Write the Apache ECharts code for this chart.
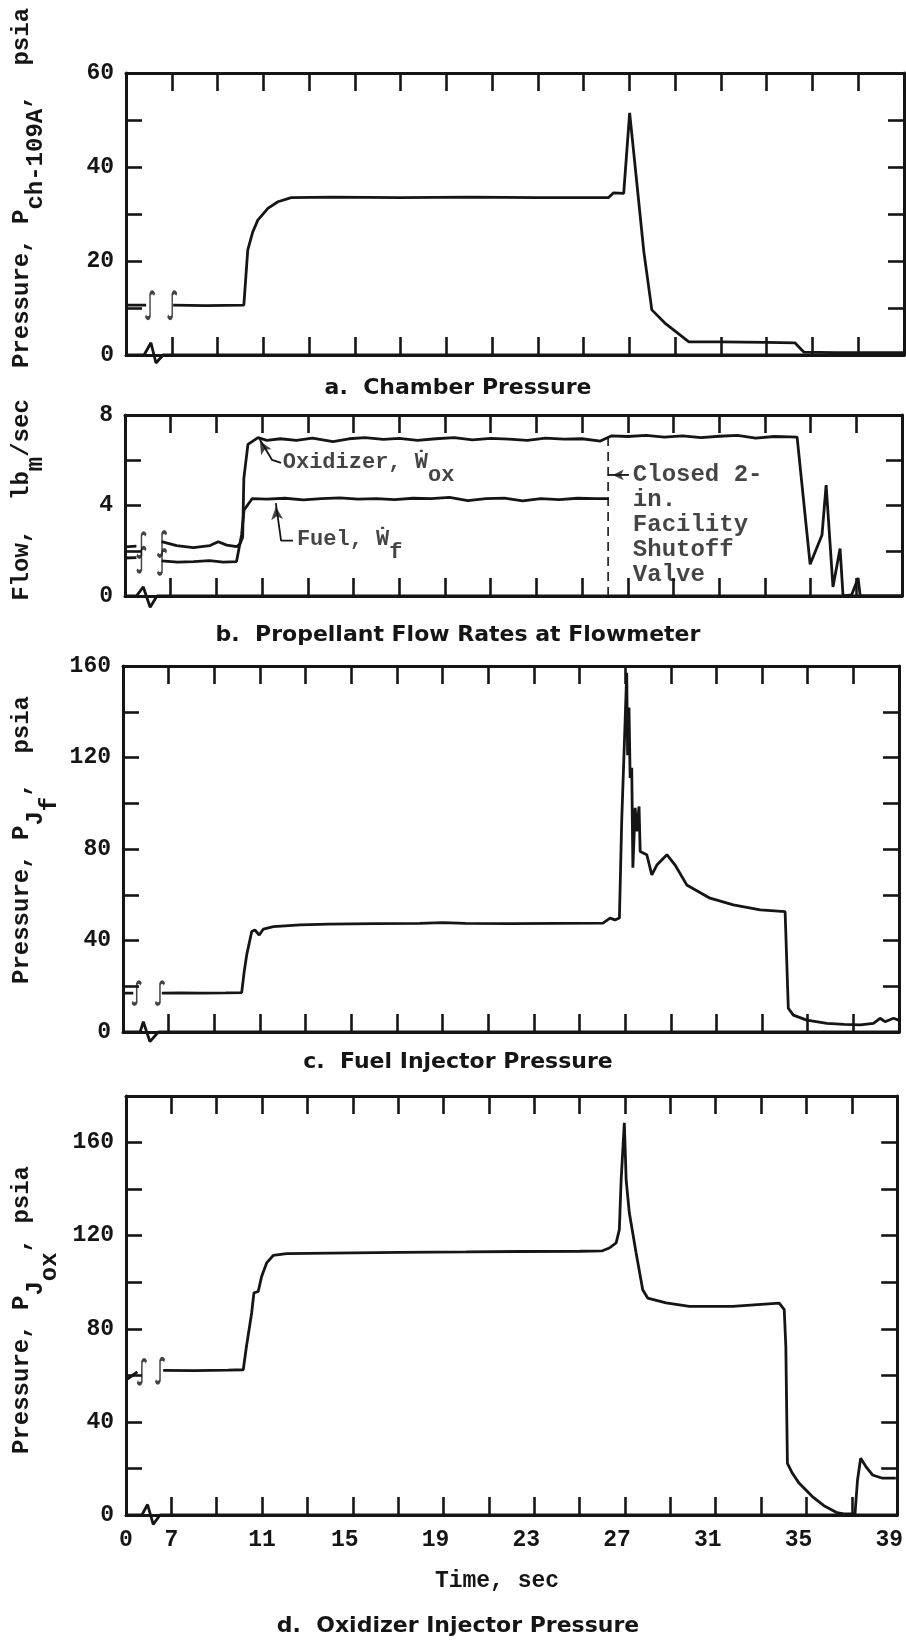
<!DOCTYPE html>
<html><head><meta charset="utf-8">
<script src="https://cdn.jsdelivr.net/npm/echarts@6/dist/echarts.min.js"></script>
<style>html,body{margin:0;padding:0;background:#fff}#c{width:906px;height:1644px}</style>
</head><body><div id="c"></div>
<script>
// Broken time axis: axis value 5 is the origin (labelled "0"), 7..39 are seconds.
const timeTickValues = [5, 7, 11, 15, 19, 23, 27, 31, 35, 39];
const timeTickLabels = ['0', '7', '11', '15', '19', '23', '27', '31', '35', '39'];

const chamberTicks = [0, 20, 40, 60];
const flowTicks = [0, 4, 8];
const fuelInjTicks = [0, 40, 80, 120, 160];
const oxInjTicks = [0, 40, 80, 120, 160];

// a. Chamber pressure
const chamberTime  = [5, 5.88, 6.5, 7.06, 8.5, 10.15, 10.32, 10.54, 10.76, 11.2, 11.64, 12.22, 14, 17, 20, 23, 26.09, 26.31, 26.75, 27.01, 27.19, 27.63, 27.98, 28.55, 29.6, 31, 33, 34.23, 34.63, 36, 39];
const chamberPress = [10.6, 10.6, null, 10.6, 10.5, 10.6, 22.3, 26.2, 28.7, 31.2, 32.6, 33.5, 33.6, 33.5, 33.6, 33.5, 33.5, 34.5, 34.4, 51.5, 43, 22, 9.6, 6.8, 2.8, 2.8, 2.7, 2.6, 0.6, 0.5, 0.5];

// b. Propellant flow rates
const oxTime = [5, 5.5, 6.0, 6.6, 7.26, 7.99, 8.72, 9.08, 9.45, 9.89, 10.03, 10.15, 10.2, 10.38, 10.82, 11.21, 11.8, 12.5, 13.2, 14.1, 14.8, 15.5, 16.3, 17.0, 17.8, 18.6, 19.4, 20.2, 21.0, 21.8, 22.6, 23.4, 24.2, 25.0, 25.8, 26.3, 27.0, 27.8, 28.6, 29.4, 30.2, 31.0, 31.8, 32.6, 33.4, 34.1, 34.41, 34.98, 35.5, 35.68, 35.98, 36.29, 36.42, 36.8, 37.08, 37.17, 39];
const oxFlow = [2.17, 2.2, null, 2.4, 2.23, 2.14, 2.23, 2.4, 2.25, 2.18, 2.3, 2.6, 5.2, 6.7, 7.0, 6.88, 6.95, 6.88, 6.98, 6.82, 6.95, 7.0, 6.92, 6.97, 6.88, 6.95, 7.0, 6.9, 6.97, 6.93, 6.88, 6.98, 6.93, 6.95, 6.85, 7.08, 7.05, 7.1, 7.02, 7.08, 7.0, 7.06, 7.1, 6.98, 7.05, 7.03, 7.02, 1.4, 2.7, 4.9, 0.4, 2.1, 0.0, 0.05, 0.8, 0.0, 0.0];
const fuelTime = [5, 5.5, 6.0, 6.6, 7.3, 8.0, 8.7, 9.3, 9.88, 10.1, 10.21, 10.56, 11.2, 12.0, 12.8, 13.6, 14.4, 15.2, 16.0, 16.8, 17.6, 18.4, 19.2, 20.0, 20.8, 21.6, 22.4, 23.2, 24.0, 24.8, 25.6, 26.14];
const fuelFlow = [1.68, 1.7, null, 1.55, 1.5, 1.52, 1.56, 1.5, 1.52, 2.7, 3.8, 4.3, 4.28, 4.32, 4.25, 4.3, 4.34, 4.28, 4.3, 4.26, 4.32, 4.3, 4.36, 4.22, 4.3, 4.33, 4.2, 4.3, 4.26, 4.32, 4.3, 4.3];
const valveCloseTime = 26.14;

// c. Fuel injector pressure
const fuelInjTime  = [5, 5.45, 5.9, 6.7, 7.5, 8.5, 9.5, 10.2, 10.31, 10.42, 10.64, 10.78, 10.97, 11.15, 11.59, 12.76, 14, 16, 18, 19, 20, 22, 24, 26.03, 26.34, 26.56, 26.75, 26.85, 27.0, 27.07, 27.11, 27.17, 27.22, 27.29, 27.34, 27.44, 27.51, 27.61, 27.66, 27.95, 28.17, 28.39, 28.83, 29.19, 29.7, 30.72, 31.74, 32.92, 34.01, 34.15, 34.37, 34.96, 35.84, 36.6, 37.3, 37.88, 38.17, 38.39, 38.76, 38.98];
const fuelInjPress = [17, 17, null, 17, 17.1, 17, 17.1, 17.2, 26.4, 33.7, 43.9, 44.6, 42.4, 45, 46.1, 46.8, 47.2, 47.4, 47.5, 47.8, 47.5, 47.4, 47.5, 47.6, 49.8, 49, 49.8, 92, 135.8, 157, 121, 141.8, 111, 115.5, 71.8, 98, 87.7, 98.6, 78.9, 77.5, 68.7, 73, 77.5, 73, 64.3, 58.5, 55.6, 53.4, 52.6, 10.4, 7.4, 5.2, 3.8, 3.3, 3.1, 3.8, 6, 4.5, 6, 5.2];

// d. Oxidizer injector pressure
const oxInjTime  = [5, 5.5, 6.0, 6.64, 8, 9.5, 10.17, 10.31, 10.54, 10.64, 10.83, 10.98, 11.2, 11.49, 12.08, 14, 17.06, 20, 22.35, 25, 26.0, 26.31, 26.61, 26.75, 26.83, 26.97, 27.05, 27.19, 27.49, 27.78, 28.0, 28.81, 29.84, 31.74, 33.8, 34.02, 34.09, 34.16, 34.38, 34.68, 35.26, 35.77, 36.35, 36.65, 37.14, 37.25, 37.39, 37.62, 37.91, 38.35, 38.94];
const oxInjPress = [58, 61.5, null, 62.1, 62, 62.2, 62.4, 72.4, 86.8, 95.4, 96, 102.5, 108.3, 111.5, 112.3, 112.5, 112.8, 113, 113.2, 113.3, 113.5, 114.7, 116.9, 122.6, 144, 168.5, 144, 129.8, 112.6, 96.8, 93.2, 91.1, 89.6, 89.6, 91, 88.2, 72.4, 22.2, 17.9, 13.6, 7.9, 4, 1, 0.5, 0.5, 15, 24.4, 20.8, 17.2, 15.8, 15.8];

// zero traces (with the break squiggle)
const zeroTimeA = [5, 5.79, 6.09, 6.31, 6.62, 39], zeroValA = [0, 0, 2.6, -1.7, 0, 0];
const zeroTimeB = [5, 5.5, 5.8, 6.1, 6.4, 39],    zeroValB = [0, 0, 0.4, -0.5, 0, 0];
const zeroTimeC = [5, 5.75, 5.89, 6.18, 6.55, 39], zeroValC = [0, 0, 4.5, -4.2, 0, 0];
const zeroTimeD = [5, 5.7, 5.95, 6.2, 6.5, 39],   zeroValD = [0, 0, 4.5, -4, 0, 0];

// axis-break marks on the curves
const breakTimeA = [6.05, 7.02], breakLevelA = [10.6, 10.6];
const breakTimeOx = [5.72, 6.62], breakLevelOx = [2.25, 2.3];
const breakTimeFuel = [5.72, 6.62], breakLevelFuel = [1.6, 1.5];
const breakTimeC = [5.6, 6.62], breakLevelC = [17, 17];
const breakTimeD = [5.7, 6.5], breakLevelD = [61.5, 62];

const INK = '#151515';
const MONO = '"Liberation Mono", "DejaVu Sans Mono", monospace';
const SANS = '"DejaVu Sans", sans-serif';

const pairs = (t, v) => t.map((x, i) => [x, v[i] === null ? '-' : v[i]]);

const grids = [
  {left: 126, top: 73, width: 778, height: 282},
  {left: 125, top: 415, width: 777, height: 181},
  {left: 123, top: 666, width: 776, height: 366},
  {left: 126, top: 1096, width: 772, height: 419}
];
const yCfg = [
  {max: 60, interval: 10, labels: chamberTicks},
  {max: 8, interval: 2, labels: flowTicks},
  {max: 160, interval: 20, labels: fuelInjTicks},
  {max: 180, interval: 20, labels: oxInjTicks}
];

const axisLine = {show: true, onZero: false, lineStyle: {color: INK, width: 3}};
const xAxes = [], yAxes = [];
grids.forEach((g, i) => {
  ['bottom', 'top'].forEach(pos => {
    const showLab = (i === 3 && pos === 'bottom');
    xAxes.push({
      type: 'value', gridIndex: i, min: 5, max: 39, interval: 2, position: pos,
      axisLine: axisLine,
      axisTick: {show: true, inside: true, length: 18, lineStyle: {color: INK, width: 2.6}},
      splitLine: {show: false},
      axisLabel: {
        show: showLab, margin: 14, color: INK, fontFamily: MONO, fontWeight: 'bold', fontSize: 23,
        formatter: v => {
          const k = timeTickValues.indexOf(v);
          if (k < 0) return '';
          return (v >= 15 ? '{s|' : '{n|') + timeTickLabels[k] + '}';
        },
        rich: {
          n: {fontFamily: MONO, fontWeight: 'bold', fontSize: 23, color: INK},
          s: {fontFamily: MONO, fontWeight: 'bold', fontSize: 23, color: INK, padding: [0, 16, 0, 0]}
        }
      }
    });
  });
  ['left', 'right'].forEach(pos => {
    yAxes.push({
      type: 'value', gridIndex: i, min: 0, max: yCfg[i].max, interval: yCfg[i].interval, position: pos,
      axisLine: axisLine,
      axisTick: {show: true, inside: true, length: 16, lineStyle: {color: INK, width: 2.6}},
      splitLine: {show: false},
      axisLabel: {
        show: pos === 'left', margin: 12, color: INK, fontFamily: MONO, fontWeight: 'bold', fontSize: 23,
        formatter: v => yCfg[i].labels.includes(v) ? String(v) : ''
      }
    });
  });
});

const curve = (i, t, v, extra) => Object.assign({
  type: 'line', xAxisIndex: 2 * i, yAxisIndex: 2 * i, data: pairs(t, v),
  showSymbol: false, symbol: 'none', connectNulls: false, silent: true, z: 3,
  lineStyle: {color: INK, width: 2.8}
}, extra || {});

const BREAK_PATH = 'path://M10,3 C9,0.5 6,0 5,3 L5,21 C4,24 1,23.5 0,21';
const breaks = (i, t, v, size) => ({
  type: 'scatter', xAxisIndex: 2 * i, yAxisIndex: 2 * i, data: pairs(t, v), silent: true, z: 4,
  symbol: BREAK_PATH, symbolSize: size,
  itemStyle: {color: 'rgba(0,0,0,0)', borderColor: INK, borderWidth: 2.4}
});

const monoRich = (fs) => ({
  m: {fontFamily: MONO, fontWeight: 'bold', fontSize: fs, color: INK, verticalAlign: 'top'},
  s: {fontFamily: MONO, fontWeight: 'bold', fontSize: fs, color: INK, verticalAlign: 'top', padding: [13, 0, 0, 0]}
});

const series = [
  curve(0, chamberTime, chamberPress),
  curve(0, zeroTimeA, zeroValA, {clip: false}),
  breaks(0, breakTimeA, breakLevelA, [9, 26]),

  curve(1, oxTime, oxFlow),
  curve(1, fuelTime, fuelFlow),
  curve(1, zeroTimeB, zeroValB, {clip: false}),
  breaks(1, breakTimeOx, breakLevelOx, [9, 24]),
  breaks(1, breakTimeFuel, breakLevelFuel, [9, 24]),
  // valve-closure dashed line
  {type: 'line', xAxisIndex: 2, yAxisIndex: 2, data: [[valveCloseTime, 0], [valveCloseTime, 7.0]],
   showSymbol: false, symbol: 'none', silent: true, lineStyle: {color: INK, width: 1.6, type: [9, 6]}},
  // leader lines
  {type: 'line', xAxisIndex: 2, yAxisIndex: 2, data: [[10.88, 6.95], [11.43, 6.02], [11.83, 5.88]],
   showSymbol: false, symbol: 'none', silent: true, lineStyle: {color: INK, width: 1.8}},
  {type: 'line', xAxisIndex: 2, yAxisIndex: 2, data: [[11.6, 4.1], [11.83, 2.45], [12.35, 2.45]],
   showSymbol: false, symbol: 'none', silent: true, lineStyle: {color: INK, width: 1.8}},
  {type: 'line', xAxisIndex: 2, yAxisIndex: 2, data: [[valveCloseTime, 5.35], [27.05, 5.35]],
   showSymbol: false, symbol: 'none', silent: true, lineStyle: {color: INK, width: 1.8}},
  // arrowheads
  {type: 'scatter', xAxisIndex: 2, yAxisIndex: 2, silent: true, z: 5, symbol: 'arrow',
   itemStyle: {color: INK},
   data: [
     {value: [10.9, 6.85], symbolRotate: 30, symbolSize: [9, 13]},
     {value: [11.6, 3.95], symbolRotate: 6, symbolSize: [9, 13]},
     {value: [valveCloseTime + 0.2, 5.35], symbolRotate: 90, symbolSize: [8, 11]}
   ]},
  // annotation texts
  {type: 'scatter', xAxisIndex: 2, yAxisIndex: 2, silent: true, z: 5, symbolSize: 1,
   itemStyle: {color: 'rgba(0,0,0,0)'},
   label: {show: true, position: 'right', distance: 0, color: INK, rich: monoRich(22)},
   data: [
     {value: [11.88, 5.62], label: {formatter: '{m|Oxidizer, Ẇ}{s|ox}'}},
     {value: [12.5, 2.19], label: {formatter: '{m|Fuel, Ẇ}{s|f}'}}
   ]},
  {type: 'scatter', xAxisIndex: 2, yAxisIndex: 2, silent: true, z: 5, symbolSize: 1,
   itemStyle: {color: 'rgba(0,0,0,0)'},
   label: {show: true, position: 'right', distance: 0, color: INK, fontFamily: MONO, fontWeight: 'bold',
           fontSize: 24, lineHeight: 25, align: 'left'},
   data: [{value: [27.2, 3.14], label: {formatter: 'Closed 2-\nin.\nFacility\nShutoff\nValve'}}]},

  curve(2, fuelInjTime, fuelInjPress),
  curve(2, zeroTimeC, zeroValC, {clip: false}),
  breaks(2, breakTimeC, breakLevelC, [9, 22]),

  curve(3, oxInjTime, oxInjPress),
  curve(3, zeroTimeD, zeroValD, {clip: false}),
  breaks(3, breakTimeD, breakLevelD, [9, 24])
];

const nameRich = {
  m: {fontFamily: MONO, fontWeight: 'bold', fontSize: 24, fill: INK, verticalAlign: 'top'},
  s: {fontFamily: MONO, fontWeight: 'bold', fontSize: 24, fill: INK, verticalAlign: 'top', padding: [14, 0, 0, 0]},
  ss: {fontFamily: MONO, fontWeight: 'bold', fontSize: 24, fill: INK, verticalAlign: 'top', padding: [28, 0, 0, 0]}
};
const yName = (x, y, text) => ({
  type: 'text', x: x, y: y, rotation: Math.PI / 2, silent: true,
  style: {text: text, rich: nameRich, align: 'center', verticalAlign: 'middle', fill: INK}
});
const title = (y, text) => ({
  type: 'text', x: 458, y: y, silent: true,
  style: {text: text, fontFamily: SANS, fontWeight: 'bold', fontSize: 22, fill: INK, align: 'center', verticalAlign: 'middle'}
});

const option = {
  animation: false,
  backgroundColor: '#fff',
  grid: grids,
  xAxis: xAxes,
  yAxis: yAxes,
  series: series,
  graphic: [
    yName(29, 188, '{m|Pressure, P}{s|ch-109A}{m|,  psia}'),
    yName(29, 500, '{m|Flow,  lb}{s|m}{m|/sec}'),
    yName(36, 840, '{m|Pressure, P}{s|J}{ss|f}{m|,  psia}'),
    yName(36, 1310, '{m|Pressure, P}{s|J}{ss|ox}{m|, psia}'),
    title(388, 'a.  Chamber Pressure'),
    title(635, 'b.  Propellant Flow Rates at Flowmeter'),
    title(1062, 'c.  Fuel Injector Pressure'),
    title(1626, 'd.  Oxidizer Injector Pressure'),
    {type: 'text', x: 497, y: 1581, silent: true,
     style: {text: 'Time, sec', fontFamily: MONO, fontWeight: 'bold', fontSize: 23, fill: INK, align: 'center', verticalAlign: 'middle'}}
  ]
};

const chart = echarts.init(document.getElementById('c'), null, {renderer: 'canvas', width: 906, height: 1644});
chart.setOption(option);
</script>
</body></html>
